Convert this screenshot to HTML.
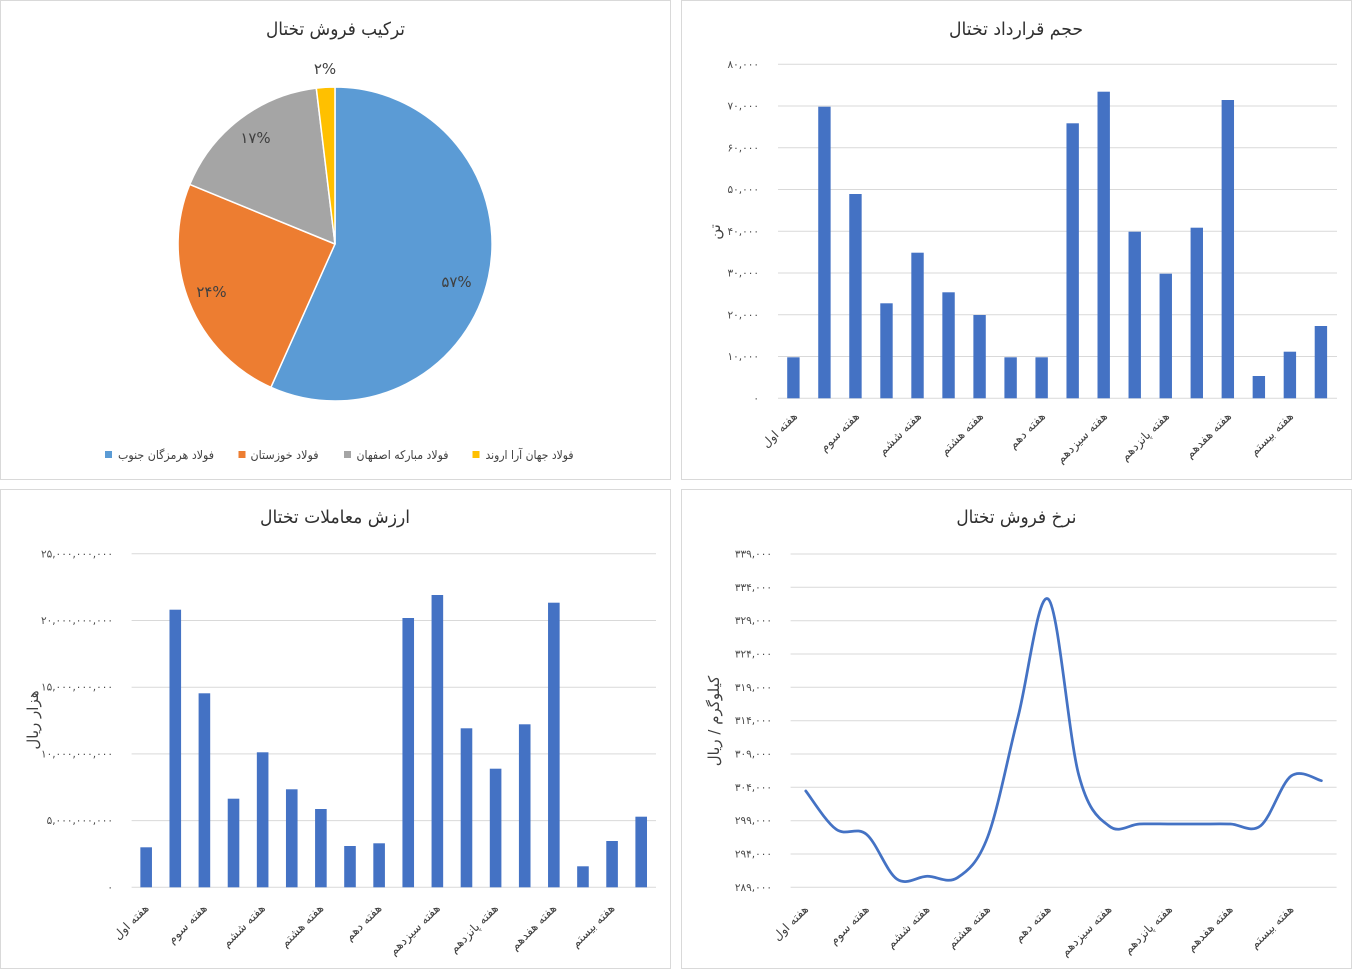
<!DOCTYPE html>
<html><head><meta charset="utf-8"><style>
html,body{margin:0;padding:0;background:#fff;}
svg{display:block;}
text{font-family:"DejaVu Sans","Liberation Sans",sans-serif;}
.t{font-size:18px;fill:#303030;text-anchor:middle;}
.yl{font-size:10.5px;fill:#4a4a4a;text-anchor:end;}
.xl{font-size:12px;fill:#404040;text-anchor:end;}
.at{font-size:15px;fill:#404040;text-anchor:middle;}
.lg{font-size:12px;fill:#404040;}
.pl{font-size:15px;fill:#404040;text-anchor:middle;}
.g{stroke:#d9d9d9;stroke-width:1;}
</style></head><body>
<svg width="1352" height="969" viewBox="0 0 1352 969" xmlns="http://www.w3.org/2000/svg">
<rect x="0" y="0" width="1352" height="969" fill="#fff"/>
<!-- panels -->
<rect x="0.5" y="0.5" width="670" height="479" fill="#fff" stroke="#d9d9d9"/>
<rect x="681.5" y="0.5" width="670" height="479" fill="#fff" stroke="#d9d9d9"/>
<rect x="0.5" y="489.5" width="670" height="479" fill="#fff" stroke="#d9d9d9"/>
<rect x="681.5" y="489.5" width="670" height="479" fill="#fff" stroke="#d9d9d9"/>

<!-- ===== TOP LEFT PIE ===== -->
<text class="t" x="335.5" y="35" textLength="139" lengthAdjust="spacingAndGlyphs">ترکیب فروش تختال</text>
<g stroke="#fff" stroke-width="1.5" stroke-linejoin="round">
<path d="M335,244 L335,87 A157,157 0 1 1 270.9,387.3 Z" fill="#5B9BD5"/>
<path d="M335,244 L270.9,387.3 A157,157 0 0 1 189.8,184.4 Z" fill="#ED7D31"/>
<path d="M335,244 L189.8,184.4 A157,157 0 0 1 316.3,88.1 Z" fill="#A5A5A5"/>
<path d="M335,244 L316.3,88.1 A157,157 0 0 1 335,87 Z" fill="#FFC000"/>
</g>
<text class="pl" x="456.5" y="287">۵۷%</text>
<text class="pl" x="211.5" y="297">۲۴%</text>
<text class="pl" x="255.5" y="143">۱۷%</text>
<text class="pl" x="325" y="74">۲%</text>
<rect x="105" y="451" width="7" height="7" fill="#5B9BD5"/>
<text class="lg" x="118" y="459" textLength="96" lengthAdjust="spacingAndGlyphs">فولاد هرمزگان جنوب</text>
<rect x="238.5" y="451" width="7" height="7" fill="#ED7D31"/>
<text class="lg" x="250.5" y="459" textLength="68" lengthAdjust="spacingAndGlyphs">فولاد خوزستان</text>
<rect x="344" y="451" width="7" height="7" fill="#A5A5A5"/>
<text class="lg" x="356.5" y="459" textLength="92" lengthAdjust="spacingAndGlyphs">فولاد مبارکه اصفهان</text>
<rect x="472.5" y="451" width="7" height="7" fill="#FFC000"/>
<text class="lg" x="485.5" y="459" textLength="88" lengthAdjust="spacingAndGlyphs">فولاد جهان آرا اروند</text>

<!-- ===== TOP RIGHT BAR ===== -->
<text class="t" x="1016" y="35" textLength="134" lengthAdjust="spacingAndGlyphs">حجم قرارداد تختال</text>
<g class="g">
<line x1="778" y1="64.3" x2="1337" y2="64.3"/>
<line x1="778" y1="106.05" x2="1337" y2="106.05"/>
<line x1="778" y1="147.8" x2="1337" y2="147.8"/>
<line x1="778" y1="189.55" x2="1337" y2="189.55"/>
<line x1="778" y1="231.3" x2="1337" y2="231.3"/>
<line x1="778" y1="273.05" x2="1337" y2="273.05"/>
<line x1="778" y1="314.8" x2="1337" y2="314.8"/>
<line x1="778" y1="356.55" x2="1337" y2="356.55"/>
<line x1="778" y1="398.3" x2="1337" y2="398.3"/>
</g>
<g>
<text class="yl" x="759" y="67.8">۸۰,۰۰۰</text>
<text class="yl" x="759" y="109.5">۷۰,۰۰۰</text>
<text class="yl" x="759" y="151.3">۶۰,۰۰۰</text>
<text class="yl" x="759" y="193">۵۰,۰۰۰</text>
<text class="yl" x="759" y="234.8">۴۰,۰۰۰</text>
<text class="yl" x="759" y="276.5">۳۰,۰۰۰</text>
<text class="yl" x="759" y="318.3">۲۰,۰۰۰</text>
<text class="yl" x="759" y="360">۱۰,۰۰۰</text>
<text class="yl" x="759" y="401.8">۰</text>
</g>
<text class="at" transform="translate(720,232) rotate(-90)">تن</text>
<g fill="#4472C4">
<rect x="787.2" y="357.3" width="12.4" height="41"/>
<rect x="818.23" y="106.7" width="12.4" height="291.6"/>
<rect x="849.26" y="194" width="12.4" height="204.3"/>
<rect x="880.29" y="303.3" width="12.4" height="95"/>
<rect x="911.32" y="252.7" width="12.4" height="145.6"/>
<rect x="942.35" y="292.3" width="12.4" height="106"/>
<rect x="973.38" y="315" width="12.4" height="83.3"/>
<rect x="1004.41" y="357.3" width="12.4" height="41"/>
<rect x="1035.44" y="357.3" width="12.4" height="41"/>
<rect x="1066.47" y="123.3" width="12.4" height="275"/>
<rect x="1097.5" y="91.7" width="12.4" height="306.6"/>
<rect x="1128.53" y="231.7" width="12.4" height="166.6"/>
<rect x="1159.56" y="273.7" width="12.4" height="124.6"/>
<rect x="1190.59" y="227.7" width="12.4" height="170.6"/>
<rect x="1221.62" y="100" width="12.4" height="298.3"/>
<rect x="1252.65" y="376" width="12.4" height="22.3"/>
<rect x="1283.68" y="351.7" width="12.4" height="46.6"/>
<rect x="1314.71" y="326" width="12.4" height="72.3"/>
</g>
<g>
<text class="xl" transform="translate(798,417) rotate(-45)">هفته اول</text>
<text class="xl" transform="translate(860,417) rotate(-45)">هفته سوم</text>
<text class="xl" transform="translate(922,417) rotate(-45)">هفته ششم</text>
<text class="xl" transform="translate(984,417) rotate(-45)">هفته هشتم</text>
<text class="xl" transform="translate(1046,417) rotate(-45)">هفته دهم</text>
<text class="xl" transform="translate(1108,417) rotate(-45)">هفته سیزدهم</text>
<text class="xl" transform="translate(1170,417) rotate(-45)">هفته پانزدهم</text>
<text class="xl" transform="translate(1232,417) rotate(-45)">هفته هفدهم</text>
<text class="xl" transform="translate(1294,417) rotate(-45)">هفته بیستم</text>
</g>

<!-- ===== BOTTOM LEFT BAR ===== -->
<text class="t" x="335" y="523" textLength="150" lengthAdjust="spacingAndGlyphs">ارزش معاملات تختال</text>
<g class="g">
<line x1="131.6" y1="553.8" x2="656" y2="553.8"/>
<line x1="131.6" y1="620.5" x2="656" y2="620.5"/>
<line x1="131.6" y1="687.2" x2="656" y2="687.2"/>
<line x1="131.6" y1="753.9" x2="656" y2="753.9"/>
<line x1="131.6" y1="820.6" x2="656" y2="820.6"/>
<line x1="131.6" y1="887.3" x2="656" y2="887.3"/>
</g>
<g>
<text class="yl" x="113" y="557.3">۲۵,۰۰۰,۰۰۰,۰۰۰</text>
<text class="yl" x="113" y="624">۲۰,۰۰۰,۰۰۰,۰۰۰</text>
<text class="yl" x="113" y="690.7">۱۵,۰۰۰,۰۰۰,۰۰۰</text>
<text class="yl" x="113" y="757.4">۱۰,۰۰۰,۰۰۰,۰۰۰</text>
<text class="yl" x="113" y="824.1">۵,۰۰۰,۰۰۰,۰۰۰</text>
<text class="yl" x="113" y="890.8">۰</text>
</g>
<text class="at" transform="translate(38,720) rotate(-90)">هزار ریال</text>
<g fill="#4472C4">
<rect x="140.36" y="847.3" width="11.6" height="40"/>
<rect x="169.48" y="609.7" width="11.6" height="277.6"/>
<rect x="198.6" y="693.3" width="11.6" height="194"/>
<rect x="227.72" y="798.7" width="11.6" height="88.6"/>
<rect x="256.84" y="752.3" width="11.6" height="135"/>
<rect x="285.96" y="789.3" width="11.6" height="98"/>
<rect x="315.08" y="809" width="11.6" height="78.3"/>
<rect x="344.2" y="846" width="11.6" height="41.3"/>
<rect x="373.32" y="843.3" width="11.6" height="44"/>
<rect x="402.44" y="618" width="11.6" height="269.3"/>
<rect x="431.56" y="595" width="11.6" height="292.3"/>
<rect x="460.68" y="728.3" width="11.6" height="159"/>
<rect x="489.8" y="768.7" width="11.6" height="118.6"/>
<rect x="518.92" y="724.3" width="11.6" height="163"/>
<rect x="548.04" y="602.7" width="11.6" height="284.6"/>
<rect x="577.16" y="866.3" width="11.6" height="21"/>
<rect x="606.28" y="841" width="11.6" height="46.3"/>
<rect x="635.4" y="816.7" width="11.6" height="70.6"/>
</g>
<g>
<text class="xl" transform="translate(149.5,909) rotate(-45)">هفته اول</text>
<text class="xl" transform="translate(207.7,909) rotate(-45)">هفته سوم</text>
<text class="xl" transform="translate(265.9,909) rotate(-45)">هفته ششم</text>
<text class="xl" transform="translate(324.2,909) rotate(-45)">هفته هشتم</text>
<text class="xl" transform="translate(382.4,909) rotate(-45)">هفته دهم</text>
<text class="xl" transform="translate(440.7,909) rotate(-45)">هفته سیزدهم</text>
<text class="xl" transform="translate(498.9,909) rotate(-45)">هفته پانزدهم</text>
<text class="xl" transform="translate(557.2,909) rotate(-45)">هفته هفدهم</text>
<text class="xl" transform="translate(615.4,909) rotate(-45)">هفته بیستم</text>
</g>

<!-- ===== BOTTOM RIGHT LINE ===== -->
<text class="t" x="1016.4" y="523" textLength="120" lengthAdjust="spacingAndGlyphs">نرخ فروش تختال</text>
<g class="g">
<line x1="790.6" y1="554" x2="1336.6" y2="554"/>
<line x1="790.6" y1="587.3" x2="1336.6" y2="587.3"/>
<line x1="790.6" y1="620.7" x2="1336.6" y2="620.7"/>
<line x1="790.6" y1="654" x2="1336.6" y2="654"/>
<line x1="790.6" y1="687.3" x2="1336.6" y2="687.3"/>
<line x1="790.6" y1="720.7" x2="1336.6" y2="720.7"/>
<line x1="790.6" y1="754" x2="1336.6" y2="754"/>
<line x1="790.6" y1="787.3" x2="1336.6" y2="787.3"/>
<line x1="790.6" y1="820.7" x2="1336.6" y2="820.7"/>
<line x1="790.6" y1="854" x2="1336.6" y2="854"/>
<line x1="790.6" y1="887.3" x2="1336.6" y2="887.3"/>
</g>
<g>
<text class="yl" x="772" y="557.5">۳۳۹,۰۰۰</text>
<text class="yl" x="772" y="590.8">۳۳۴,۰۰۰</text>
<text class="yl" x="772" y="624.2">۳۲۹,۰۰۰</text>
<text class="yl" x="772" y="657.5">۳۲۴,۰۰۰</text>
<text class="yl" x="772" y="690.8">۳۱۹,۰۰۰</text>
<text class="yl" x="772" y="724.2">۳۱۴,۰۰۰</text>
<text class="yl" x="772" y="757.5">۳۰۹,۰۰۰</text>
<text class="yl" x="772" y="790.8">۳۰۴,۰۰۰</text>
<text class="yl" x="772" y="824.2">۲۹۹,۰۰۰</text>
<text class="yl" x="772" y="857.5">۲۹۴,۰۰۰</text>
<text class="yl" x="772" y="890.8">۲۸۹,۰۰۰</text>
</g>
<text class="at" transform="translate(719,721) rotate(-90)">کیلوگرم / ریال</text>
<path fill="none" stroke="#4472C4" stroke-width="2.75" stroke-linecap="round" stroke-linejoin="round" d="M805.8,791
C810.86,797.38 826.02,822.08 836.13,829.3
C846.24,836.52 856.35,826.02 866.46,834.3
C876.57,842.58 886.68,872 896.79,879
C906.9,886 917.01,876.52 927.12,876.3
C937.23,876.08 947.34,884.3 957.45,877.7
C967.56,871.1 977.67,863.53 987.78,836.7
C997.89,809.87 1008,756.27 1018.11,716.7
C1028.22,677.13 1038.33,589.58 1048.44,599.3
C1058.55,609.02 1068.66,737.22 1078.77,775
C1088.88,812.78 1098.99,817.83 1109.1,826
C1119.21,834.17 1129.32,824.33 1139.43,824
C1149.54,823.67 1159.65,824 1169.76,824
C1179.87,824 1189.98,824 1200.09,824
C1210.2,824 1220.31,823.72 1230.42,824
C1240.53,824.28 1250.64,833.7 1260.75,825.7
C1270.86,817.7 1280.97,783.5 1291.08,776
C1301.19,768.5 1316.35,779.92 1321.41,780.7"/>
<g>
<text class="xl" transform="translate(809,910) rotate(-45)">هفته اول</text>
<text class="xl" transform="translate(869.7,910) rotate(-45)">هفته سوم</text>
<text class="xl" transform="translate(930.3,910) rotate(-45)">هفته ششم</text>
<text class="xl" transform="translate(991,910) rotate(-45)">هفته هشتم</text>
<text class="xl" transform="translate(1051.6,910) rotate(-45)">هفته دهم</text>
<text class="xl" transform="translate(1112.3,910) rotate(-45)">هفته سیزدهم</text>
<text class="xl" transform="translate(1173,910) rotate(-45)">هفته پانزدهم</text>
<text class="xl" transform="translate(1233.6,910) rotate(-45)">هفته هفدهم</text>
<text class="xl" transform="translate(1294.3,910) rotate(-45)">هفته بیستم</text>
</g>
</svg>
</body></html>
